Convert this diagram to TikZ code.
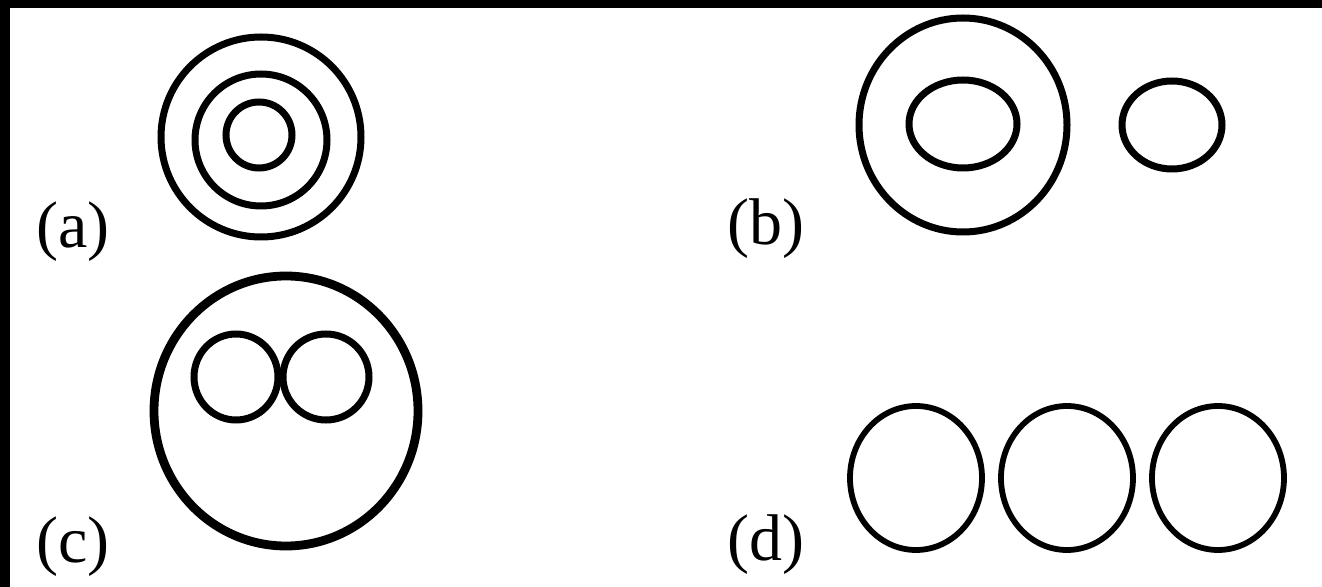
\documentclass[tikz,border=0pt]{standalone}
\usepackage{fontspec}
\setmainfont{Liberation Serif}
\usepackage{xcolor}

\begin{document}
\begin{tikzpicture}[
    x=0.5pt, y=-0.5pt,
    ring/.style={draw=black, line width=3.5pt},
    thickring/.style={draw=black, line width=4.4pt},
    thinring/.style={draw=black, line width=2.9pt},
    caselabel/.style={inner sep=0pt, font=\fontsize{33}{36}\selectfont}
]
    \useasboundingbox (0,0) rectangle (1322,587);
    \fill[white] (0,0) rectangle (1322,587);
    % frame edges (top and left only)
    \fill[black] (0,0) rectangle (1322,8);
    \fill[black] (0,0) rectangle (10,587);

    % (a) three nested circles
    \draw[ring] (261,137) circle [radius=100];
    \draw[ring] (261,140) circle [radius=66];
    \draw[ring] (259,135) circle [radius=33];
    \node[caselabel] (la) at (73,232) {(a)};

    % (b) ring with inner oval, plus a separate oval
    \draw[ring] (963,125) ellipse [x radius=104, y radius=107];
    \draw[ring] (963,124) ellipse [x radius=54, y radius=44];
    \draw[ring] (1172,125) ellipse [x radius=50, y radius=44];
    \node[caselabel] (lb) at (766,229) {(b)};

    % (c) big circle holding two touching circles
    \draw[thickring] (286,411) ellipse [x radius=132, y radius=135];
    \draw[ring] (236,377) ellipse [x radius=42, y radius=43];
    \draw[ring] (326,377) ellipse [x radius=43, y radius=43];
    \node[caselabel] (lc) at (73,547) {(c)};

    % (d) three ovals in a row
    \foreach \cx in {916,1067,1218}
        \draw[thinring] (\cx,478) ellipse [x radius=66, y radius=72];
    \node[caselabel] (ld) at (766,545) {(d)};
\end{tikzpicture}
\end{document}
